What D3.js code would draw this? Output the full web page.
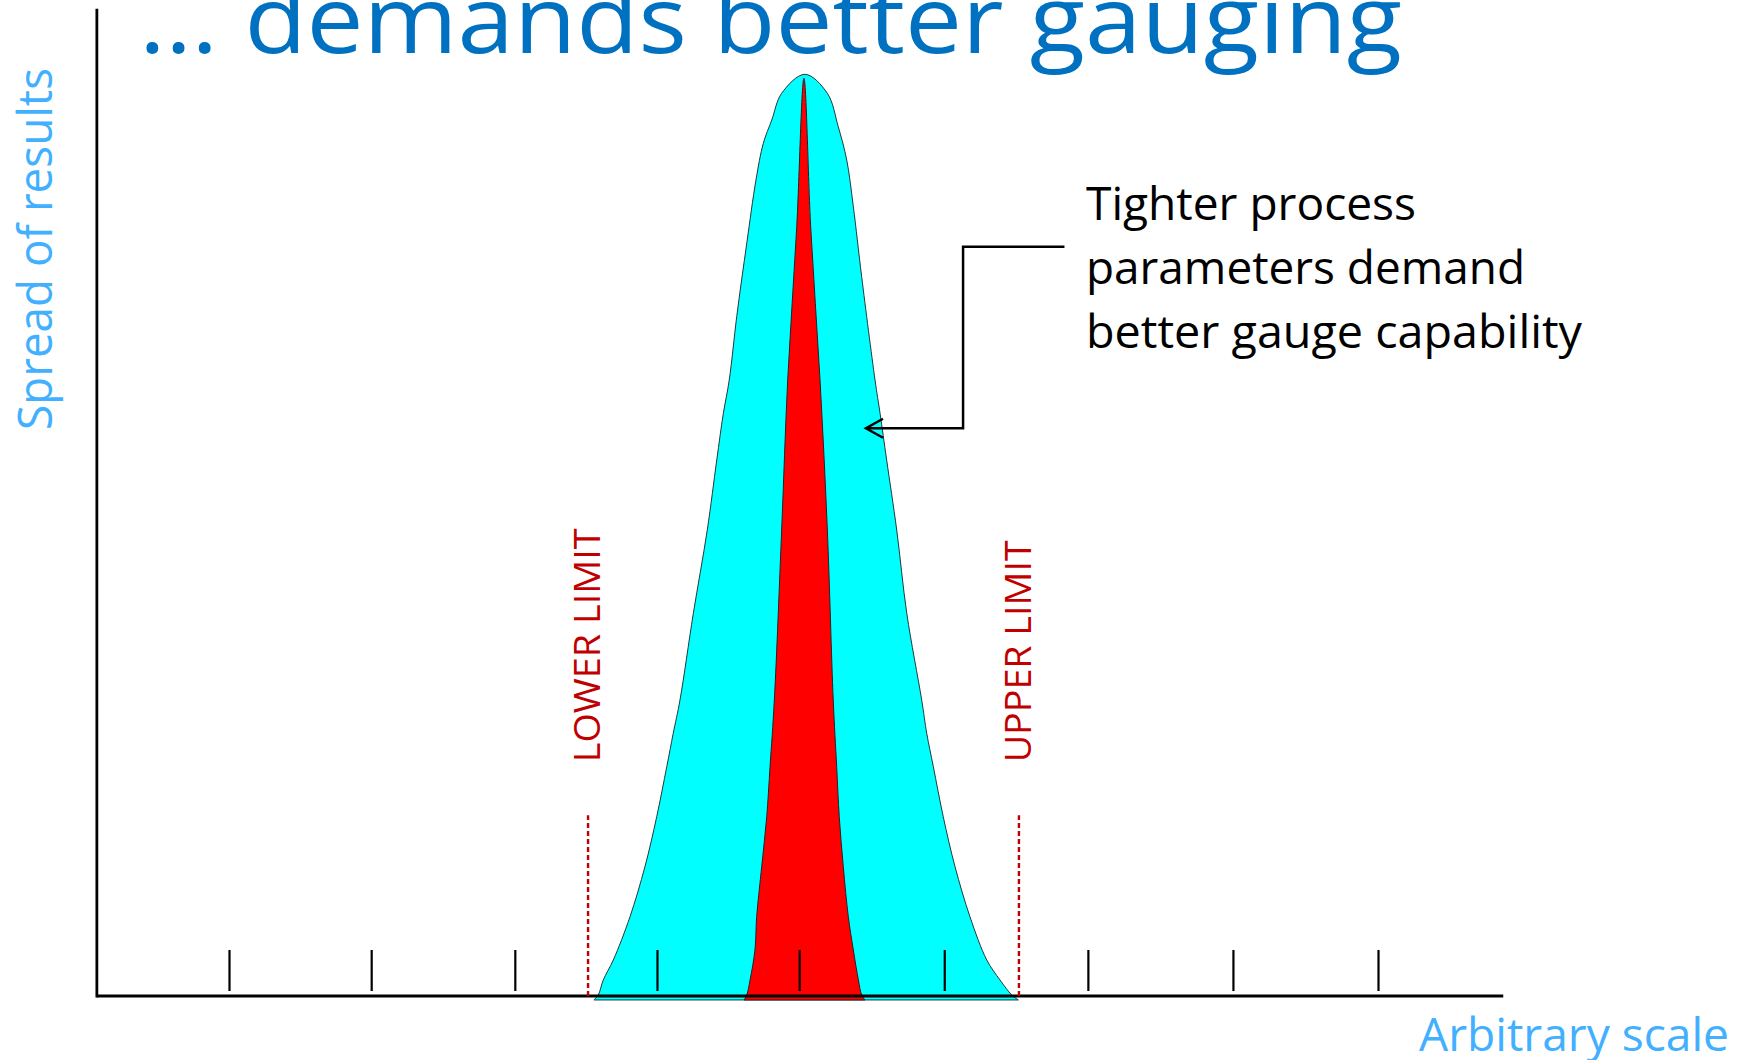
<!DOCTYPE html>
<html>
<head>
<meta charset="utf-8">
<script src="https://cdn.jsdelivr.net/npm/d3@7"></script>
<style>
  body { margin: 0; background: #fff; }
  text { font-family: "Open Sans", "Noto Sans", sans-serif; }
</style>
</head>
<body>
<div id="chart"></div>
<script>

// outline of the process spread (wide, cyan) - [arbitrary scale, relative height]
var processCurve = [
  [-1.459, -0.43], [-1.429, 0.11], [-1.394, 1.74], [-1.324, 3.91], [-1.208, 8.60],
  [-1.104, 14.03], [-1.022, 19.45], [-0.952, 24.88], [-0.907, 28.50], [-0.860, 32.11],
  [-0.767, 41.52], [-0.670, 50.56], [-0.604, 58.15], [-0.558, 63.22], [-0.517, 66.83],
  [-0.465, 73.70], [-0.395, 81.67], [-0.331, 88.53], [-0.280, 92.51], [-0.221, 95.04],
  [-0.152, 97.94], [0.010, 100],
  [0.166, 97.94], [0.242, 94.31], [0.301, 90.70], [0.347, 85.64], [0.405, 78.04],
  [0.498, 66.83], [0.533, 63.22], [0.579, 58.15], [0.649, 50.56], [0.719, 41.52],
  [0.823, 32.11], [0.858, 28.50], [0.904, 24.88], [0.973, 19.45], [1.055, 14.03],
  [1.159, 8.60], [1.276, 3.91], [1.368, 1.74], [1.450, 0.11], [1.496, -0.43]
];

// outline of the gauge spread (narrow, red)
var gaugeCurve = [
  [-0.414, -0.43], [-0.395, 0.11], [-0.372, 1.74], [-0.338, 4.99], [-0.326, 8.60],
  [-0.291, 14.03], [-0.256, 19.45], [-0.233, 24.88], [-0.203, 32.11], [-0.152, 50.56],
  [-0.110, 66.83], [-0.047, 83.46], [0.003, 99.57],
  [0.050, 83.46], [0.115, 66.83], [0.166, 50.56], [0.207, 32.11], [0.231, 24.88],
  [0.249, 19.45], [0.277, 14.03], [0.312, 8.60], [0.347, 4.99], [0.382, 1.74],
  [0.405, 0.11], [0.428, -0.43]
];

// tick marks along the arbitrary scale
var tickValues = [-4, -3.01, -2.01, -1.02, -0.03, 0.98, 1.98, 2.99, 4];

// spec limits and how high their dashed lines go
var limitNames = ["LOWER LIMIT", "UPPER LIMIT"];
var limitValues = [-1.5, 1.5];
var limitHeight = 19.6;

// axis extents
var xExtent = [-4.92, 4.872];
var yTop = 107.1;

// annotation text and the point it points to
var noteLines = ["Tighter process", "parameters demand", "better gauge capability"];
var noteTip = [0.435, 61.6];
var noteElbowX = 1.111;
var noteTopY = 81.3;
var noteEndX = 1.817;

var width = 1747,
    height = 1060;

var x = d3.scaleLinear().domain([-4, 4]).range([229, 1378]);
var y = d3.scaleLinear().domain([0, 100]).range([996, 74.3]);

var svg = d3.select("#chart").append("svg")
    .attr("width", width)
    .attr("height", height);

var outline = d3.line()
    .curve(d3.curveCatmullRom.alpha(0.5))
    .x(function(d) { return x(d[0]); })
    .y(function(d) { return y(d[1]); });

// the two spreads
svg.append("path")
    .datum(processCurve)
    .attr("d", function(d) { return outline(d) + "Z"; })
    .style("fill", "#00FFFF")
    .style("stroke", "#1d3a3a")
    .style("stroke-width", 1);

svg.append("path")
    .datum(gaugeCurve)
    .attr("d", function(d) { return outline(d) + "Z"; })
    .style("fill", "#FF0000")
    .style("stroke", "#222")
    .style("stroke-width", 1);

// axes lines
svg.append("line")
    .attr("x1", x(xExtent[0])).attr("x2", x(xExtent[1]))
    .attr("y1", y(0)).attr("y2", y(0))
    .style("stroke", "#000").style("stroke-width", 2.8);

svg.append("line")
    .attr("x1", x(xExtent[0])).attr("x2", x(xExtent[0]))
    .attr("y1", y(0) + 1.4).attr("y2", y(yTop))
    .style("stroke", "#000").style("stroke-width", 2.8);

// tick marks standing just above the axis
var ticks = svg.append("g")
    .attr("transform", "translate(0," + (y(0) - 5) + ")")
    .call(d3.axisBottom(x).tickValues(tickValues).tickSize(-41).tickFormat(""));
ticks.select(".domain").remove();
ticks.selectAll("line").style("stroke", "#000").style("stroke-width", 2.2);

// spec limits
limitValues.forEach(function(v, i) {
  svg.append("line")
      .attr("x1", x(v)).attr("x2", x(v))
      .attr("y1", y(0)).attr("y2", y(limitHeight))
      .style("stroke", "#C00000")
      .style("stroke-width", 2.4)
      .style("stroke-dasharray", "5,3");

  var lx = x(v) + 12, ly = y(limitHeight) - 53;
  svg.append("text")
      .attr("transform", "translate(" + lx + "," + ly + ") rotate(-90)")
      .attr("textLength", i == 0 ? 234 : 222)
      .attr("lengthAdjust", "spacingAndGlyphs")
      .style("font-size", "37px")
      .style("fill", "#C00000")
      .text(limitNames[i]);
});

// annotation connector
svg.append("path")
    .attr("d", "M" + x(noteEndX) + "," + y(noteTopY) +
               "H" + x(noteElbowX) +
               "V" + y(noteTip[1]) +
               "H" + x(noteTip[0]))
    .style("fill", "none")
    .style("stroke", "#000")
    .style("stroke-width", 2.5);

svg.append("path")
    .attr("d", "M" + (x(noteTip[0]) + 17) + "," + (y(noteTip[1]) - 9.5) +
               "L" + x(noteTip[0]) + "," + y(noteTip[1]) +
               "L" + (x(noteTip[0]) + 17) + "," + (y(noteTip[1]) + 9.5))
    .style("fill", "none")
    .style("stroke", "#000")
    .style("stroke-width", 2.5);

var noteLengths = [330, 439, 496];
noteLines.forEach(function(t, i) {
  svg.append("text")
      .attr("x", 1086)
      .attr("y", 219.5 + i * 64)
      .attr("textLength", noteLengths[i])
      .attr("lengthAdjust", "spacingAndGlyphs")
      .style("font-size", "45px")
      .style("fill", "#000")
      .text(t);
});

// title, partly off the top of the slide
svg.append("text")
    .attr("x", 139)
    .attr("y", 52.5)
    .attr("textLength", 1263)
    .attr("lengthAdjust", "spacingAndGlyphs")
    .style("font-size", "94px")
    .style("fill", "#0070C0")
    .text("\u2026 demands better gauging");

// axis titles
svg.append("text")
    .attr("transform", "translate(51.7,430) rotate(-90)")
    .attr("textLength", 362)
    .attr("lengthAdjust", "spacingAndGlyphs")
    .style("font-size", "48px")
    .style("fill", "#42B0FF")
    .text("Spread of results");

svg.append("text")
    .attr("x", 1419)
    .attr("y", 1050.7)
    .attr("textLength", 310)
    .attr("lengthAdjust", "spacingAndGlyphs")
    .style("font-size", "46px")
    .style("fill", "#42B0FF")
    .text("Arbitrary scale");

</script>
</body>
</html>
